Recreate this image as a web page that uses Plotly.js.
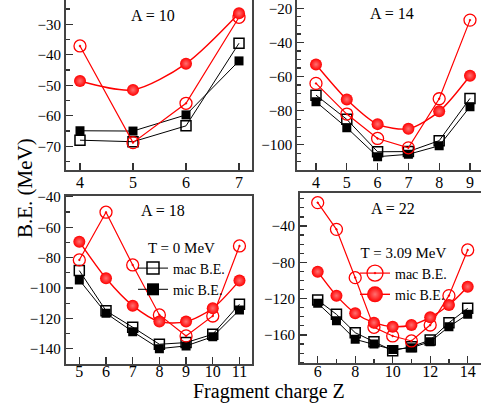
<!DOCTYPE html>
<html>
<head>
<meta charset="utf-8">
<script src="https://cdn.plot.ly/plotly-3.0.1.min.js"></script>
<style>
html,body{margin:0;padding:0;overflow:hidden;background:#fff;width:481px;height:406px;}
#chart{width:484px;height:406px;}
</style>
</head>
<body>
<div id="chart"></div>
<script>
// ---- data ----
const Z10 = [4, 5, 6, 7];
const mac0_10 = [-68, -68.5, -63.3, -36.2];
const mic0_10 = [-64.9, -65, -59.7, -42];
const macT_10 = [-37.1, -68.8, -55.9, -27.7];
const micT_10 = [-48.6, -51.5, -42.9, -26.4];

const Z14 = [4, 5, 6, 7, 8, 9];
const mac0_14 = [-70.9, -85.1, -104.1, -104, -97.6, -72.8];
const mic0_14 = [-74.8, -90, -107, -105.6, -100.6, -77.7];
const macT_14 = [-64, -82, -96.3, -101.8, -73, -26.9];
const micT_14 = [-52.9, -73.4, -87.9, -90.6, -80.4, -59.5];

const Z18 = [5, 6, 7, 8, 9, 10, 11];
const mac0_18 = [-88.5, -115, -125.8, -137, -135.9, -130.4, -110.7];
const mic0_18 = [-94.7, -116.6, -128.7, -139.9, -138.1, -132, -114.4];
const macT_18 = [-81.5, -50.1, -84.8, -117.7, -131.5, -118.4, -72.3];
const micT_18 = [-69.5, -93.6, -111.6, -122.1, -122.1, -113.3, -95.1];

const Z22 = [6, 7, 8, 9, 10, 11, 12, 13, 14];
const mac0_22 = [-121.5, -137.3, -157.5, -167.4, -177.3, -172.9, -165.6, -146.5, -130.7];
const mic0_22 = [-125.1, -144.3, -164.8, -170, -176, -174, -167.5, -150.9, -137.3];
const macT_22 = [-14.3, -43.7, -96.9, -151.6, -161.1, -166.6, -149, -116.7, -66.4];
const micT_22 = [-90.3, -116.7, -136.1, -146.5, -150.9, -149, -140.6, -127, -106.8];

const panelLabels = ["A = 10", "A = 14", "A = 18", "A = 22"];
const legendNames = ["mac B.E.", "mic B.E."];
const legendTitles = ["T = 0 MeV", "T = 3.09 MeV"];

// ---- styling ----
const W = 484, H = 406;
const RED = '#ff0000';
const HILITE = '#ff7070';
const FONT = 'Liberation Serif';
const px = v => v / W;
const py = v => 1 - v / H;

const panels = [
  {Z: Z10, d: [mac0_10, mic0_10, macT_10, micT_10], xa: 'x', ya: 'y'},
  {Z: Z14, d: [mac0_14, mic0_14, macT_14, micT_14], xa: 'x2', ya: 'y2'},
  {Z: Z18, d: [mac0_18, mic0_18, macT_18, micT_18], xa: 'x3', ya: 'y3'},
  {Z: Z22, d: [mac0_22, mic0_22, macT_22, micT_22], xa: 'x4', ya: 'y4'}
];

const traces = [];
panels.forEach(p => {
  traces.push({x: p.Z, y: p.d[0], xaxis: p.xa, yaxis: p.ya, mode: 'lines+markers', showlegend: false,
    line: {color: '#000', width: 1},
    marker: {symbol: 'square-open', size: 10, color: '#000', line: {width: 1.5, color: '#000'}}});
  traces.push({x: p.Z, y: p.d[1], xaxis: p.xa, yaxis: p.ya, mode: 'lines+markers', showlegend: false,
    line: {color: '#000', width: 1},
    marker: {symbol: 'square', size: 9, color: '#000'}});
  traces.push({x: p.Z, y: p.d[2], xaxis: p.xa, yaxis: p.ya, mode: 'lines+markers', showlegend: false,
    line: {color: RED, width: 1.2},
    marker: {symbol: 'circle-open-dot', size: 12, color: RED, line: {width: 1.3, color: RED}}});
  traces.push({x: p.Z, y: p.d[3], xaxis: p.xa, yaxis: p.ya, mode: 'lines+markers', showlegend: false,
    line: {color: RED, width: 1.4, shape: 'spline', smoothing: 0.8},
    marker: {symbol: 'circle', size: 12, color: RED, gradient: {type: 'radial', color: HILITE}}});
});

// legend-only entries
traces.push({x: [null], y: [null], xaxis: 'x3', yaxis: 'y3', name: legendNames[0], legend: 'legend', mode: 'lines+markers',
  line: {color: '#000', width: 1}, marker: {symbol: 'square-open', size: 12, color: '#000', line: {width: 1.5, color: '#000'}}});
traces.push({x: [null], y: [null], xaxis: 'x3', yaxis: 'y3', name: legendNames[1], legend: 'legend', mode: 'lines+markers',
  line: {color: '#000', width: 1}, marker: {symbol: 'square', size: 12, color: '#000'}});
traces.push({x: [null], y: [null], xaxis: 'x4', yaxis: 'y4', name: legendNames[0], legend: 'legend2', mode: 'lines+markers',
  line: {color: RED, width: 1.2}, marker: {symbol: 'circle-open-dot', size: 16, color: RED, line: {width: 1.3, color: RED}}});
traces.push({x: [null], y: [null], xaxis: 'x4', yaxis: 'y4', name: legendNames[1], legend: 'legend2', mode: 'lines+markers',
  line: {color: RED, width: 1.4}, marker: {symbol: 'circle', size: 16, color: RED, gradient: {type: 'radial', color: HILITE}}});

function xaxis(domain, range, dtick, minorDtick, standoff) {
  const a = {domain: domain, range: range, dtick: dtick, tick0: 0, ticks: 'inside', ticklen: 7, tickwidth: 1.2,
    tickcolor: '#333', showline: true, linecolor: '#444', linewidth: 2, mirror: true, showgrid: false, zeroline: false,
    tickfont: {family: FONT, size: 16, color: '#000'}, ticklabelstandoff: standoff, fixedrange: true};
  if (minorDtick) a.minor = {dtick: minorDtick, ticks: 'inside', ticklen: 4, tickcolor: '#333', showgrid: false};
  return a;
}
function yaxis(domain, range, dtick, minorDtick) {
  return {domain: domain, range: range, dtick: dtick, tick0: 0, ticks: 'inside', ticklen: 7, tickwidth: 1.2,
    tickcolor: '#333', showline: true, linecolor: '#444', linewidth: 2, mirror: true, showgrid: false, zeroline: false,
    tickfont: {family: FONT, size: 15, color: '#000'}, fixedrange: true,
    minor: {dtick: minorDtick, ticks: 'inside', ticklen: 4, tickcolor: '#333', showgrid: false}};
}

function ann(text, x, y, size, angle) {
  return {text: text, x: px(x), y: py(y), xref: 'paper', yref: 'paper', xanchor: 'center', yanchor: 'middle',
    showarrow: false, textangle: angle || 0, font: {family: FONT, size: size, color: '#000'}};
}

const layout = {
  width: W, height: H,
  margin: {l: 0, r: 0, t: 0, b: 0},
  paper_bgcolor: '#fff', plot_bgcolor: '#fff',
  font: {family: FONT, color: '#000'},
  xaxis: xaxis([px(66), px(252)], [3.736, 7.245], 1, 0, -3),
  yaxis: yaxis([py(170), py(0)], [-77.77, -22.03], 10, 5),
  xaxis2: Object.assign(xaxis([px(297.3), px(484)], [3.393, 9.455], 1, 0, -3), {anchor: 'y2'}),
  yaxis2: Object.assign(yaxis([py(170), py(0)], [-114.8, -15.1], 20, 5), {anchor: 'x2'}),
  xaxis3: Object.assign(xaxis([px(65.7), px(252)], [4.49, 11.47], 1, 0, -8), {anchor: 'y3'}),
  yaxis3: Object.assign(yaxis([py(364), py(195.5)], [-150, -39.1], 20, 10), {anchor: 'x3'}),
  xaxis4: Object.assign(xaxis([px(300), px(484)], [5.056, 14.87], 2, 1, -8), {anchor: 'y4'}),
  yaxis4: Object.assign(yaxis([py(363.3), py(193)], [-191.2, -3.66], 40, 10), {anchor: 'x4'}),
  legend: {x: px(133), y: py(233), xanchor: 'left', yanchor: 'top', bgcolor: 'rgba(0,0,0,0)',
    font: {family: FONT, size: 14, color: '#000'}, tracegroupgap: 0,
    title: {text: legendTitles[0], side: 'top center', font: {family: FONT, size: 15, color: '#000'}}},
  legend2: {x: px(355), y: py(238), xanchor: 'left', yanchor: 'top', bgcolor: 'rgba(0,0,0,0)',
    font: {family: FONT, size: 14, color: '#000'}, tracegroupgap: 0,
    title: {text: legendTitles[1], side: 'top center', font: {family: FONT, size: 15, color: '#000'}}},
  annotations: [
    ann(panelLabels[0], 153, 15.5, 16),
    ann(panelLabels[1], 392, 14, 16),
    ann(panelLabels[2], 163, 210, 16),
    ann(panelLabels[3], 393, 208, 16),
    ann('Fragment charge Z', 269, 391, 20),
    ann('B.E. (MeV)', 25, 188, 21, -90)
  ]
};

Plotly.newPlot('chart', traces, layout, {staticPlot: true, displayModeBar: false});
</script>
</body>
</html>
